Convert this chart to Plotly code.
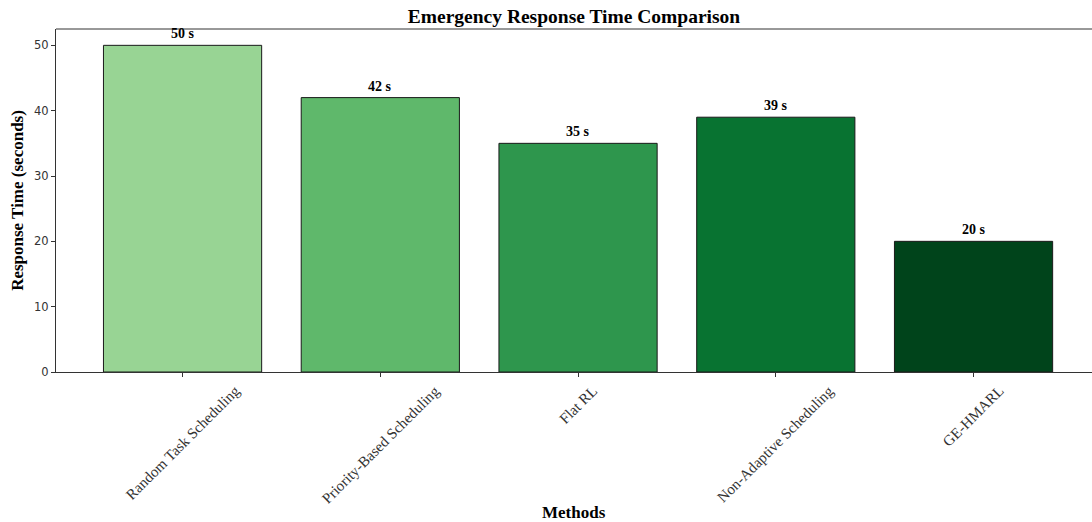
import plotly.graph_objects as go

methods = [
    "Random Task Scheduling",
    "Priority-Based Scheduling",
    "Flat RL",
    "Non-Adaptive Scheduling",
    "GE-HMARL",
]
response_times = [50, 42, 35, 39, 20]
bar_colors = ["#98d494", "#5fb86b", "#2e964d", "#087331", "#00441b"]
y_ticks = [0, 10, 20, 30, 40, 50]

serif = "Liberation Serif, Times New Roman, serif"
sans = "DejaVu Sans, sans-serif"

x_pos = list(range(len(methods)))

W, H = 1092, 522
M_L, M_R, M_T, M_B = 56, 0, 29, 150
plot_h = H - M_T - M_B

fig = go.Figure()
fig.add_trace(go.Bar(
    x=x_pos,
    y=response_times,
    width=0.8,
    marker=dict(color=bar_colors, line=dict(color="#1a1a1a", width=1)),
    hoverinfo="skip",
))

# value labels above the bars
for xi, v in zip(x_pos, response_times):
    fig.add_annotation(
        x=xi, y=v, text=f"<b>{v} s</b>", showarrow=False,
        yanchor="bottom", yshift=2,
        font=dict(family=serif, size=14, color="black"),
    )

# rotated category labels, centred under each tick
for xi, name in zip(x_pos, methods):
    fig.add_annotation(
        x=xi, xref="x", y=0, yref="paper", text=name, showarrow=False,
        textangle=-45, xanchor="center", yanchor="top", yshift=-8,
        font=dict(family=serif, size=15, color="#333333"),
    )

# x-axis title
fig.add_annotation(
    x=0.5, xref="paper", y=-(512 - (H - M_B)) / plot_h, yref="paper",
    text="<b>Methods</b>", showarrow=False, xanchor="center", yanchor="middle",
    font=dict(family=serif, size=17, color="black"),
)

# top frame line
fig.add_shape(type="line", xref="paper", yref="paper", x0=0, x1=1, y0=1, y1=1,
              line=dict(color="#333333", width=1))

fig.update_layout(
    width=W, height=H,
    margin=dict(l=M_L, r=M_R, t=M_T, b=M_B),
    paper_bgcolor="white", plot_bgcolor="white",
    showlegend=False,
    title=dict(text="<b>Emergency Response Time Comparison</b>",
               x=0.5, xref="paper", xanchor="center", y=1 - 16 / H, yanchor="middle",
               font=dict(family=serif, size=19.5, color="black")),
    xaxis=dict(
        range=[-0.64, 4.599],
        tickmode="array", tickvals=x_pos, ticktext=[""] * len(methods),
        ticks="outside", ticklen=4, tickcolor="#333333",
        showline=True, linecolor="#333333", linewidth=1,
        showgrid=False, zeroline=False,
    ),
    yaxis=dict(
        range=[0, 52.5],
        tickmode="array", tickvals=y_ticks,
        tickfont=dict(family=sans, size=11.5, color="#333333"),
        ticks="outside", ticklen=4, tickcolor="#333333",
        showline=True, linecolor="#333333", linewidth=1,
        showgrid=False, zeroline=False,
        title=dict(text="<b>Response Time (seconds)</b>", standoff=6,
                   font=dict(family=serif, size=17, color="black")),
    ),
)

fig.write_html("out.html")
